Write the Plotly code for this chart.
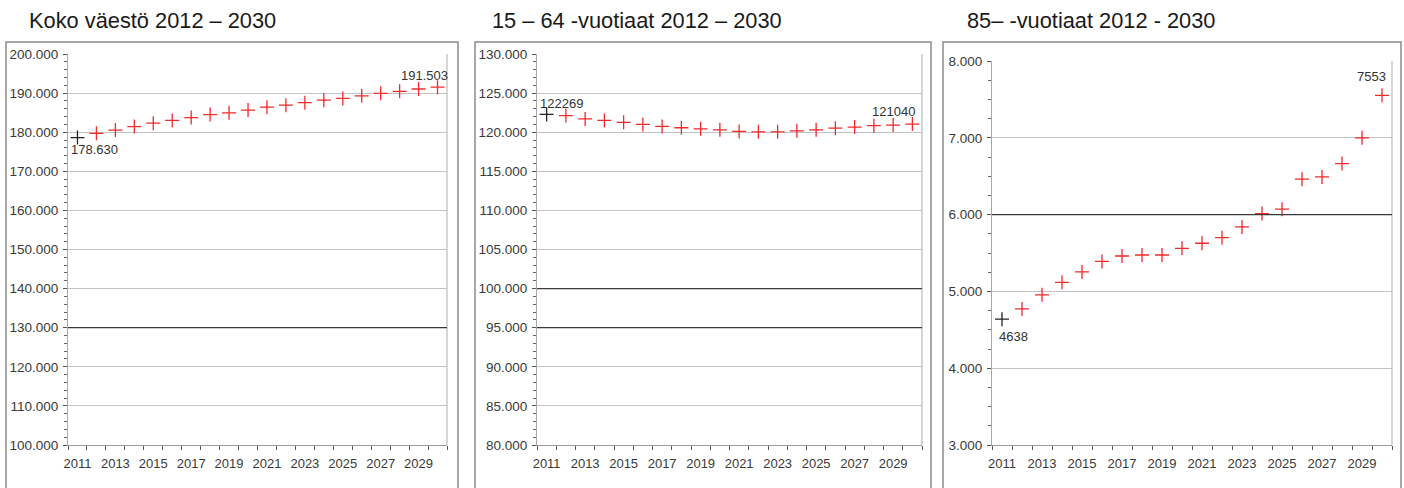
import plotly.graph_objects as go

years = list(range(2011, 2031))
tick_years = list(range(2011, 2030, 2))

titles = ["Koko väestö 2012 – 2030", "15 – 64 -vuotiaat 2012 – 2030", "85– -vuotiaat 2012 - 2030"]

total_pop = [178630, 179700, 180550, 181450, 182300, 183000, 183750, 184500, 184950,
             185650, 186400, 186900, 187550, 188200, 188650, 189300, 189950, 190450,
             191050, 191503]
working_age = [122269, 122130, 121700, 121500, 121260, 121000, 120740, 120570, 120430,
               120300, 120100, 120050, 120050, 120170, 120300, 120520, 120650, 120830,
               120910, 121040]
aged_85 = [4638, 4772, 4956, 5118, 5254, 5390, 5461, 5474, 5474, 5561, 5627, 5700,
           5839, 6013, 6070, 6461, 6491, 6665, 7000, 7553]

series = [total_pop, working_age, aged_85]
y_ranges = [(100000, 200000), (80000, 130000), (3000, 8000)]
y_dticks = [10000, 5000, 1000]
y_minor = [2000, 1000, 250]
dark_grid = [[130000], [100000, 95000], [6000]]
first_labels = ["178.630", "122269", "4638"]
last_labels = ["191.503", "121040", "7553"]

W, H = 1404, 488
def px_x(p):
    return p / W
def px_y(p):
    return 1 - p / H

x_domains = [(68, 447), (537, 922), (992, 1392)]
y_domains = [(54, 445), (54, 445), (61, 445)]
boxes = [(6, 458), (475, 931), (943, 1401)]
title_x = [27, 490, 965]

font_family = "Liberation Sans, Arial, sans-serif"
red = "#f22a2a"
fig = go.Figure()
shapes = []
annotations = []

for i in range(3):
    ax = "" if i == 0 else str(i + 1)
    xa = "x" + ax
    ya = "y" + ax
    vals = series[i]
    fig.add_trace(go.Scatter(
        x=years[1:], y=vals[1:], mode="markers", xaxis=xa, yaxis=ya,
        marker=dict(symbol="cross-thin", size=10, line=dict(width=1.3, color=red), color=red),
        showlegend=False, hoverinfo="x+y"))
    fig.add_trace(go.Scatter(
        x=years[:1], y=vals[:1], mode="markers", xaxis=xa, yaxis=ya,
        marker=dict(symbol="cross-thin", size=10, line=dict(width=1.3, color="#222222"), color="#222222"),
        showlegend=False, hoverinfo="x+y"))

    xd = x_domains[i]
    yd = y_domains[i]
    fig.update_layout({
        "xaxis" + ax: dict(
            domain=[px_x(xd[0]), px_x(xd[1])], anchor=ya, range=[2010.5, 2030.5],
            tickmode="array", tickvals=tick_years, ticktext=[str(t) for t in tick_years],
            ticks="", showgrid=False, zeroline=False, showline=True, linecolor="#9a9a9a",
            linewidth=1, tickfont=dict(family=font_family, size=13, color="#3a3a3a"),
            ticklabelstandoff=6, automargin=False,
            minor=dict(tick0=2010.5, dtick=1, ticks="outside", ticklen=4,
                       tickcolor="#555555", tickwidth=1, showgrid=False),
        ),
        "yaxis" + ax: dict(
            domain=[px_y(yd[1]), px_y(yd[0])], anchor=xa, range=list(y_ranges[i]),
            dtick=y_dticks[i], tick0=0, tickformat=",d", ticks="outside", ticklen=4,
            tickcolor="#555555", showgrid=True, gridcolor="#c2c2c2", gridwidth=1,
            zeroline=False, showline=True, linecolor="#a8a8a8", linewidth=1,
            tickfont=dict(family=font_family, size=13.5, color="#3a3a3a"),
            ticklabelstandoff=2, automargin=False,
            minor=dict(dtick=y_minor[i], ticks="outside", ticklen=3,
                       tickcolor="#666666", tickwidth=1, showgrid=False),
        ),
    })

    for g in dark_grid[i]:
        shapes.append(dict(type="line", xref=xa + " domain", yref=ya, x0=0, x1=1, y0=g, y1=g,
                           line=dict(color="#3a3a3a", width=1.3), layer="above"))
    shapes.append(dict(type="line", xref=xa + " domain", yref=ya + " domain", x0=1, x1=1, y0=0, y1=1,
                       line=dict(color="#c8c8c8", width=1.5), layer="below"))
    b = boxes[i]
    shapes.append(dict(type="rect", xref="paper", yref="paper", x0=px_x(b[0]), x1=px_x(b[1]),
                       y0=-0.2, y1=px_y(42), line=dict(color="#8a8a8a", width=1.5)))

    annotations.append(dict(text=titles[i], xref="paper", yref="paper", x=px_x(title_x[i]),
                            y=px_y(20), xanchor="left", yanchor="middle", showarrow=False,
                            font=dict(family=font_family, size=21.8, color="#1a1a1a")))

# value labels on first and last points
fs = dict(family=font_family, size=13, color="#333333")
annotations.append(dict(text=first_labels[0], xref="x", yref="y", x=years[0], y=total_pop[0],
                        xanchor="left", yanchor="top", xshift=-8, yshift=-2, showarrow=False, font=fs))
annotations.append(dict(text=last_labels[0], xref="x", yref="y", x=years[-1], y=total_pop[-1],
                        xanchor="right", yanchor="bottom", xshift=12, yshift=2, showarrow=False, font=fs))
annotations.append(dict(text=first_labels[1], xref="x2", yref="y2", x=years[0], y=working_age[0],
                        xanchor="left", yanchor="bottom", xshift=-9, yshift=1, showarrow=False, font=fs))
annotations.append(dict(text=last_labels[1], xref="x2", yref="y2", x=years[-1], y=working_age[-1],
                        xanchor="right", yanchor="bottom", xshift=5, yshift=3, showarrow=False, font=fs))
annotations.append(dict(text=first_labels[2], xref="x3", yref="y3", x=years[0], y=aged_85[0],
                        xanchor="left", yanchor="top", xshift=-5, yshift=-8, showarrow=False, font=fs))
annotations.append(dict(text=last_labels[2], xref="x3", yref="y3", x=years[-1], y=aged_85[-1],
                        xanchor="right", yanchor="bottom", xshift=6, yshift=9, showarrow=False, font=fs))

fig.update_layout(
    width=W, height=H, margin=dict(l=0, r=0, t=0, b=0, autoexpand=False),
    paper_bgcolor="white", plot_bgcolor="white",
    separators=",.", shapes=shapes, annotations=annotations,
    font=dict(family=font_family),
)

fig.write_html("out.html", config={"displayModeBar": False},
               post_script="document.body.style.margin='0';document.body.style.overflow='hidden';")
